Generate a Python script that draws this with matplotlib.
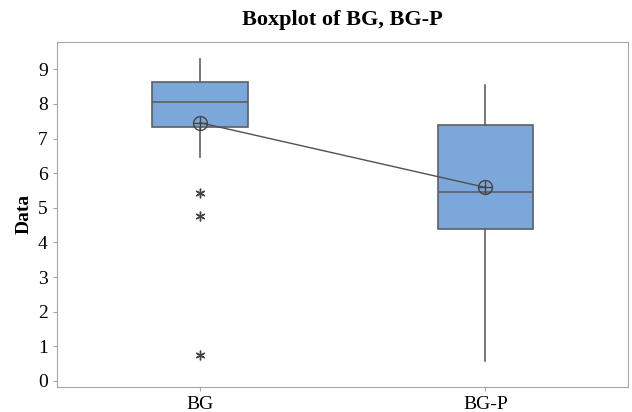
import matplotlib.pyplot as plt

# box statistics (Minitab style boxplot)
labels = ["BG", "BG-P"]
q1 = [7.34, 4.38]
medians = [8.05, 5.45]
q3 = [8.62, 7.39]
whisk_lo = [6.47, 0.57]
whisk_hi = [9.29, 8.54]
means = [7.46, 5.59]
outliers = [[5.42, 4.77, 0.74], []]

plt.rcParams['font.family'] = ['Liberation Serif', 'DejaVu Serif']

fig = plt.figure(figsize=(6.32, 4.12), dpi=100)
ax = fig.add_axes([0.090, 0.061, 0.904, 0.838])

stats = []
for i in range(len(labels)):
    stats.append(dict(label=labels[i], q1=q1[i], med=medians[i], q3=q3[i],
                      whislo=whisk_lo[i], whishi=whisk_hi[i], fliers=outliers[i]))

edge = '#5f5f5f'
pos = [1, 2]
ax.bxp(stats, positions=pos, widths=0.335, patch_artist=True, showcaps=False,
       boxprops=dict(facecolor='#7ba7da', edgecolor=edge, linewidth=1.2),
       medianprops=dict(color=edge, linewidth=1.2),
       whiskerprops=dict(color=edge, linewidth=1.2),
       flierprops=dict(marker=(6, 2, 0), markersize=7, markeredgecolor='#444444',
                       markeredgewidth=1.0, linestyle='none'))

# mean connect line with circle-plus symbols
ax.plot(pos, means, color='#505050', linewidth=1.0, zorder=4)
ax.plot(pos, means, 'o', markersize=10, markerfacecolor='none',
        markeredgecolor='#444444', markeredgewidth=1.0, zorder=5)
ax.plot(pos, means, '+', markersize=10, markeredgecolor='#444444',
        markeredgewidth=1.0, zorder=5)

ax.set_xlim(0.5, 2.5)
ax.set_ylim(-0.17, 9.8)
ax.set_yticks(range(0, 10))
ax.set_xticks(pos)
ax.set_xticklabels(labels)

for s in ax.spines.values():
    s.set_color('#a6a6a6')
ax.tick_params(colors='#a6a6a6', labelcolor='black', labelsize=14, length=3)

ax.set_ylabel('Data', fontsize=14, fontweight='bold')
ax.set_title('Boxplot of BG, BG-P', fontsize=16, fontweight='bold', pad=12)

fig.savefig('out.png', dpi=100)
